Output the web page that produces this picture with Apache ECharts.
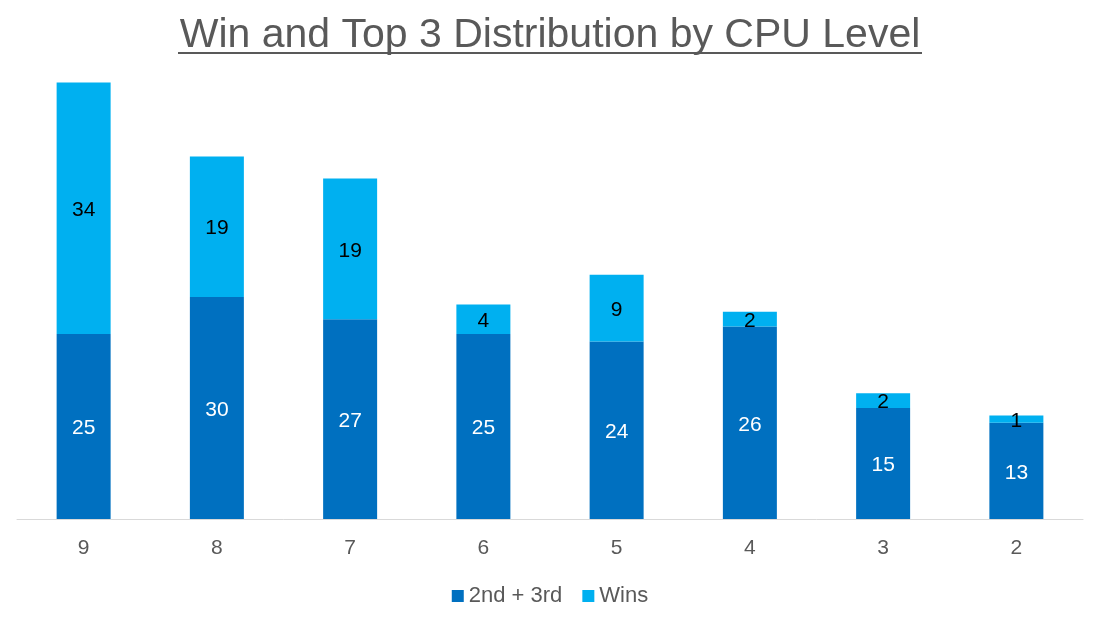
<!DOCTYPE html>
<html>
<head>
<meta charset="utf-8">
<script src="https://cdn.jsdelivr.net/npm/echarts@6/dist/echarts.min.js"></script>
<style>
html, body { margin: 0; padding: 0; background: #fff; }
#main { width: 1100px; height: 619px; }
</style>
</head>
<body>
<div id="main"></div>
<script>
var levels = ['9', '8', '7', '6', '5', '4', '3', '2'];
var secondThird = [25, 30, 27, 25, 24, 26, 15, 13];
var wins = [34, 19, 19, 4, 9, 2, 2, 1];

var chart = echarts.init(document.getElementById('main'));
var option = {
    backgroundColor: '#fff',
    animation: false,
    title: {
        text: 'Win and Top 3 Distribution by CPU Level',
        left: 'center',
        top: 10,
        textStyle: {
            color: '#595959',
            fontFamily: 'Liberation Sans, Arial',
            fontSize: 41,
            fontWeight: 'normal'
        }
    },
    // underline of the title
    graphic: [{
        type: 'line',
        shape: { x1: 178, y1: 53, x2: 922, y2: 53 },
        style: { stroke: '#595959', lineWidth: 2 }
    }],
    legend: {
        bottom: 7,
        left: 'center',
        itemWidth: 12,
        itemHeight: 12,
        itemGap: 20,
        icon: 'rect',
        textStyle: {
            color: '#595959',
            fontFamily: 'Liberation Sans, Arial',
            fontSize: 22
        },
        data: ['2nd + 3rd', 'Wins']
    },
    grid: {
        left: 17,
        right: 17,
        top: 75,
        bottom: 100,
        containLabel: false
    },
    xAxis: {
        type: 'category',
        data: levels,
        axisLine: { lineStyle: { color: '#d9d9d9', width: 1 } },
        axisTick: { show: false },
        axisLabel: {
            color: '#595959',
            fontFamily: 'Liberation Sans, Arial',
            fontSize: 21,
            margin: 19
        }
    },
    yAxis: {
        type: 'value',
        min: 0,
        max: 60,
        show: false,
        splitLine: { show: false }
    },
    series: [{
        name: '2nd + 3rd',
        type: 'bar',
        stack: 'total',
        barWidth: 54,
        data: secondThird,
        itemStyle: { color: '#0070C0' },
        label: {
            show: true,
            position: 'inside',
            offset: [0, 2],
            color: '#fff',
            fontFamily: 'Liberation Sans, Arial',
            fontSize: 21
        }
    }, {
        name: 'Wins',
        type: 'bar',
        stack: 'total',
        barWidth: 54,
        data: wins,
        itemStyle: { color: '#00B0F0' },
        label: {
            show: true,
            position: 'inside',
            offset: [0, 2],
            color: '#000',
            fontFamily: 'Liberation Sans, Arial',
            fontSize: 21
        }
    }]
};
chart.setOption(option);
</script>
</body>
</html>
